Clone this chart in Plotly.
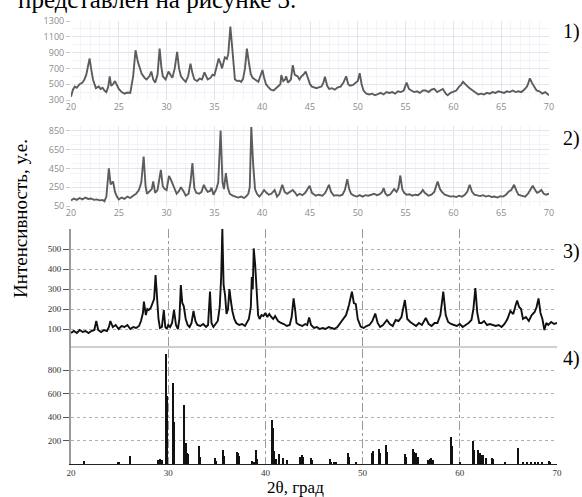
import plotly.graph_objects as go

# ---------------- data ----------------
p1_x = [20.0, 20.2, 20.4, 20.6, 20.9, 21.2, 21.4, 21.6, 21.8, 21.95,
        22.1, 22.3, 22.6, 22.9, 23.1, 23.3, 23.5, 23.7, 23.9, 24.05,
        24.2, 24.4, 24.6, 24.8, 25.0, 25.3, 25.6, 25.9, 26.2, 26.5,
        26.75, 27.0, 27.2, 27.4, 27.7, 27.9, 28.2, 28.4, 28.6, 28.8,
        29.05, 29.27, 29.45, 29.6, 29.9, 30.2, 30.4, 30.6, 30.85, 31.1,
        31.3, 31.5, 31.75, 32.0, 32.25, 32.5, 32.7, 32.9, 33.2, 33.45,
        33.7, 33.96, 34.15, 34.3, 34.6, 34.8, 35.0, 35.2, 35.45, 35.65,
        35.8, 36.0, 36.1, 36.3, 36.45, 36.67, 36.85, 37.0, 37.15, 37.4,
        37.6, 37.8, 38.0, 38.2, 38.4, 38.6, 38.8, 39.0, 39.2, 39.4,
        39.6, 39.8, 40.03, 40.2, 40.4, 40.6, 40.9, 41.2, 41.4, 41.6,
        41.9, 42.0, 42.2, 42.4, 42.5, 42.7, 43.0, 43.2, 43.4, 43.7,
        43.9, 44.1, 44.3, 44.55, 44.8, 45.0, 45.2, 45.5, 45.7, 45.9,
        46.2, 46.4, 46.56, 46.8, 47.0, 47.3, 47.6, 47.9, 48.2, 48.5,
        48.78, 49.0, 49.2, 49.5, 49.75, 50.0, 50.2, 50.4, 50.6, 50.9,
        51.2, 51.5, 51.8, 52.1, 52.4, 52.7, 53.0, 53.3, 53.6, 53.9,
        54.2, 54.5, 54.8, 55.1, 55.35, 55.6, 55.9, 56.2, 56.5, 56.8,
        57.1, 57.4, 57.7, 58.0, 58.3, 58.6, 58.9, 59.2, 59.4, 59.7,
        60.0, 60.3, 60.6, 60.8, 61.0, 61.2, 61.5, 61.7, 62.0, 62.3,
        62.6, 62.9, 63.2, 63.5, 63.8, 64.1, 64.4, 64.7, 65.0, 65.3,
        65.6, 65.9, 66.2, 66.5, 66.8, 67.1, 67.4, 67.7, 67.85, 68.0,
        68.2, 68.45, 68.7, 69.0, 69.3, 69.6, 69.8, 70.0]
p1_y = [340, 430, 470, 455, 500, 520, 560, 620, 740, 825,
        700, 560, 450, 470, 440, 455, 420, 400, 470, 600,
        480, 500, 540, 480, 440, 400, 380, 395, 390, 600,
        930, 780, 690, 630, 580, 560, 600, 660, 560, 520,
        620, 950, 720, 600, 560, 660, 620, 580, 700, 910,
        700, 600, 560, 530, 600, 760, 640, 560, 540, 570,
        560, 650, 600, 560, 580, 620, 610, 700, 825, 760,
        700, 800, 840, 820, 880, 1230, 950, 700, 560, 540,
        545, 530, 570, 700, 950, 780, 630, 580, 560, 540,
        530, 600, 680, 580, 500, 470, 430, 420, 440, 460,
        500, 615, 540, 560, 600, 520, 560, 740, 620, 600,
        560, 600, 620, 660, 560, 500, 470, 460, 450, 460,
        470, 520, 595, 480, 440, 450, 430, 460, 470, 520,
        600, 500, 480, 490, 510, 540, 640, 500, 420, 380,
        370, 380, 360, 380, 390, 370, 400, 390, 400, 380,
        410, 400, 420, 520, 440, 420, 400, 410, 390, 420,
        420, 400, 430, 440, 400, 420, 440, 380, 360, 390,
        410, 420, 470, 490, 530, 500, 470, 450, 420, 390,
        370, 380, 370, 390, 380, 400, 390, 410, 400, 390,
        410, 400, 420, 400, 410, 400, 430, 470, 520, 575,
        520, 460, 420, 410, 380, 400, 380, 360]

p2_x = [20.0, 20.3, 20.6, 20.9, 21.2, 21.5, 21.8, 22.1, 22.4, 22.7,
        23.0, 23.3, 23.5, 23.7, 23.96, 24.15, 24.4, 24.6, 24.8, 25.0,
        25.3, 25.6, 25.9, 26.2, 26.5, 26.8, 27.1, 27.35, 27.6, 27.8,
        27.95, 28.2, 28.45, 28.6, 28.8, 29.05, 29.4, 29.6, 29.8, 30.0,
        30.25, 30.45, 30.65, 30.85, 31.05, 31.3, 31.5, 31.75, 32.0, 32.3,
        32.5, 32.7, 32.9, 33.1, 33.4, 33.65, 33.9, 34.1, 34.3, 34.55,
        34.7, 34.9, 35.2, 35.4, 35.65, 35.85, 36.0, 36.2, 36.4, 36.6,
        36.9, 37.2, 37.5, 37.8, 38.1, 38.3, 38.55, 38.7, 38.86, 39.05,
        39.25, 39.45, 39.7, 39.95, 40.2, 40.45, 40.7, 40.95, 41.3, 41.55,
        41.8, 42.1, 42.35, 42.6, 42.85, 43.2, 43.45, 43.65, 43.9, 44.2,
        44.5, 44.96, 45.2, 45.6, 45.9, 46.3, 46.6, 46.98, 47.2, 47.5,
        47.8, 48.1, 48.4, 48.65, 48.9, 49.1, 49.3, 49.6, 49.9, 50.2,
        50.5, 50.8, 51.1, 51.4, 51.7, 52.0, 52.3, 52.55, 52.7, 52.9,
        53.1, 53.4, 53.6, 53.8, 54.05, 54.25, 54.45, 54.65, 54.85, 55.1,
        55.4, 55.7, 56.0, 56.3, 56.6, 56.8, 57.0, 57.4, 57.7, 58.0,
        58.35, 58.6, 58.8, 59.1, 59.4, 59.7, 60.0, 60.3, 60.6, 60.9,
        61.2, 61.45, 61.7, 61.95, 62.2, 62.5, 62.8, 63.1, 63.4, 63.7,
        64.0, 64.3, 64.6, 64.9, 65.2, 65.5, 65.8, 66.05, 66.35, 66.6,
        66.8, 67.1, 67.5, 67.8, 68.05, 68.3, 68.55, 68.75, 68.95, 69.2,
        69.45, 69.7, 70.0]
p2_y = [110, 130, 115, 135, 120, 140, 125, 130, 115, 120,
        110, 115, 100, 150, 450, 280, 310, 200, 150, 120,
        140, 125, 150, 135, 160, 180, 220, 300, 576, 260,
        180, 200, 230, 310, 190, 220, 434, 260, 230, 220,
        370, 330, 280, 220, 180, 210, 250, 210, 160, 180,
        300, 505, 240, 190, 180, 200, 275, 230, 200, 210,
        245, 170, 230, 300, 853, 300, 230, 400, 250, 180,
        160, 150, 140, 150, 135, 150, 180, 250, 890, 500,
        230, 180, 150, 180, 220, 190, 170, 180, 220, 150,
        180, 275, 200, 180, 200, 220, 190, 160, 180, 165,
        190, 265, 190, 160, 170, 160, 190, 275, 200, 160,
        165, 160, 170, 220, 334, 230, 180, 160, 150, 165,
        150, 165, 160, 170, 180, 165, 175, 200, 240, 180,
        160, 175, 200, 230, 200, 240, 374, 230, 190, 170,
        175, 160, 170, 165, 190, 220, 190, 160, 170, 200,
        310, 230, 200, 170, 160, 150, 155, 145, 160, 150,
        170, 200, 275, 200, 170, 160, 155, 165, 150, 160,
        145, 150, 140, 155, 150, 170, 205, 220, 275, 210,
        170, 160, 150, 180, 220, 266, 220, 190, 200, 220,
        180, 170, 180]

p3_x = [20.0, 20.3, 20.6, 20.9, 21.2, 21.5, 21.8, 22.1, 22.4, 22.6,
        22.8, 23.1, 23.4, 23.7, 23.9, 24.05, 24.3, 24.6, 24.9, 25.2,
        25.5, 25.8, 26.1, 26.4, 26.7, 27.0, 27.2, 27.4, 27.5, 27.7,
        27.85, 28.0, 28.2, 28.4, 28.55, 28.7, 28.85, 29.0, 29.15, 29.35,
        29.55, 29.7, 29.85, 30.0, 30.2, 30.4, 30.6, 30.8, 31.0, 31.15,
        31.3, 31.45, 31.6, 31.8, 32.0, 32.2, 32.4, 32.6, 32.8, 33.0,
        33.3, 33.6, 33.9, 34.1, 34.3, 34.45, 34.65, 34.9, 35.1, 35.3,
        35.45, 35.57, 35.7, 35.85, 36.0, 36.15, 36.3, 36.45, 36.6, 36.8,
        37.0, 37.3, 37.6, 37.9, 38.1, 38.3, 38.5, 38.6, 38.7, 38.8,
        38.95, 39.1, 39.25, 39.4, 39.6, 39.8, 40.0, 40.2, 40.4, 40.6,
        40.8, 41.0, 41.3, 41.6, 41.9, 42.2, 42.5, 42.7, 42.9, 43.05,
        43.2, 43.5, 43.8, 44.1, 44.3, 44.5, 44.7, 45.0, 45.3, 45.6,
        45.9, 46.2, 46.5, 46.8, 47.1, 47.4, 47.7, 48.0, 48.3, 48.6,
        48.9, 49.1, 49.3, 49.5, 49.8, 50.1, 50.4, 50.7, 51.0, 51.3,
        51.55, 51.8, 52.1, 52.5, 52.8, 53.1, 53.4, 53.7, 54.0, 54.35,
        54.6, 54.9, 55.2, 55.5, 55.8, 56.1, 56.5, 56.8, 57.1, 57.4,
        57.7, 58.0, 58.3, 58.55, 58.8, 59.1, 59.4, 59.7, 60.0, 60.3,
        60.6, 60.9, 61.2, 61.4, 61.6, 61.8, 62.0, 62.25, 62.5, 62.8,
        63.1, 63.4, 63.7, 64.0, 64.3, 64.6, 64.9, 65.2, 65.5, 65.75,
        65.9, 66.1, 66.3, 66.5, 66.8, 67.1, 67.4, 67.7, 67.9, 68.1,
        68.3, 68.5, 68.7, 68.9, 69.1, 69.4, 69.7, 70.0]
p3_y = [80, 90, 80, 95, 85, 90, 80, 90, 95, 140,
        95, 85, 95, 90, 110, 140, 110, 120, 100, 115,
        110, 120, 100, 110, 105, 115, 140, 180, 237, 170,
        200, 195, 205, 230, 250, 370, 250, 150, 105, 110,
        195, 110, 100, 120, 110, 130, 195, 120, 100, 150,
        320, 230, 215, 150, 120, 110, 130, 190, 140, 120,
        115, 125, 110, 120, 287, 130, 110, 130, 140, 210,
        360, 600, 320, 270, 175, 200, 300, 240, 190, 150,
        130, 120, 125, 115, 130, 150, 210, 360, 300, 503,
        420, 300, 170, 150, 170, 165, 180, 160, 175, 160,
        150, 165, 140, 130, 125, 115, 120, 160, 253, 200,
        130, 120, 115, 125, 120, 158, 120, 105, 110, 100,
        105, 100, 110, 105, 100, 110, 130, 150, 170, 220,
        287, 230, 225, 150, 112, 105, 115, 120, 140, 177,
        130, 110, 120, 145, 125, 115, 145, 140, 160, 245,
        150, 135, 125, 115, 130, 120, 155, 125, 115, 130,
        130, 170, 287, 170, 135, 125, 120, 115, 125, 110,
        120, 130, 145, 200, 305, 180, 130, 130, 140, 120,
        125, 120, 115, 120, 110, 125, 150, 190, 175, 220,
        242, 210, 200, 150, 160, 140, 170, 185, 210, 253,
        180, 150, 95, 130, 120, 135, 125, 130]

p4_x = [21.37, 24.8, 24.95, 26.06, 26.12, 29.0, 29.2, 29.35, 29.78, 29.85,
        29.92, 30.5, 30.56, 31.6, 31.66, 31.85, 31.95, 32.05, 33.17, 33.3,
        34.85, 34.95, 35.7, 35.78, 37.1, 37.2, 37.3, 38.6, 38.8, 39.06,
        39.12, 40.67, 40.75, 40.85, 41.0, 41.15, 41.4, 41.8, 42.2, 43.6,
        43.75, 43.9, 44.7, 44.8, 46.66, 46.8, 47.1, 47.3, 48.54, 48.6,
        49.3, 51.0, 51.1, 51.7, 51.8, 52.4, 52.5, 54.35, 54.45, 55.15,
        55.25, 55.55, 55.75, 56.7, 56.9, 57.1, 57.3, 59.1, 59.18, 60.0,
        61.37, 61.45, 61.9, 62.1, 62.25, 62.4, 62.7, 63.3, 63.4, 64.7,
        65.95, 66.02, 66.5, 66.9, 67.3, 67.7, 68.1, 68.5, 69.2, 69.3]
p4_y = [25, 20, 18, 68, 40, 30, 45, 30, 940, 580,
        400, 690, 360, 505, 250, 180, 90, 85, 150, 60,
        50, 25, 120, 70, 100, 95, 70, 25, 20, 116,
        40, 375, 310, 110, 35, 40, 85, 50, 30, 60,
        80, 60, 50, 30, 40, 20, 15, 15, 91, 60,
        20, 90, 108, 125, 90, 160, 100, 85, 60, 130,
        100, 90, 60, 35, 45, 50, 30, 232, 150, 12,
        196, 120, 120, 95, 80, 75, 50, 55, 40, 10,
        135, 90, 18, 15, 20, 15, 18, 12, 25, 20]

ticks_p1_x = [20, 25, 30, 35, 40, 45, 50, 55, 60, 65, 70]
ticks_p1_y = [300, 500, 700, 900, 1100, 1300]
ticks_p2_y = [50, 250, 450, 650, 850]
ticks_p3_y = [100, 200, 300, 400, 500]
ticks_p4_x = [20, 30, 40, 50, 60, 70]
ticks_p4_y = [200, 400, 600, 800]
panel_labels = ["1)", "2)", "3)", "4)"]
y_title = "Интенсивность, у.е."
x_title = "2θ, град"
top_text = "представлен на рисунке 3."

# ---------------- layout helpers ----------------
W, H = 582, 497


def py(pix):
    return 1 - pix / H


def px(pix):
    return pix / W


XL = px(71)
XR12 = px(549)
XR34 = px(557)

gray_font = dict(family="Open Sans", size=9, color="#8c8c8c")
serif_small = dict(family="Liberation Serif", size=9, color="#333333")
serif_big = dict(family="Liberation Serif", size=20, color="#000000")

fig = go.Figure()
fig.add_trace(go.Scatter(x=p1_x, y=p1_y, mode="lines", xaxis="x", yaxis="y",
                         line=dict(color="#5c5c5c", width=1.9)))
fig.add_trace(go.Scatter(x=p2_x, y=p2_y, mode="lines", xaxis="x2", yaxis="y2",
                         line=dict(color="#5c5c5c", width=1.9)))
fig.add_trace(go.Scatter(x=p3_x, y=p3_y, mode="lines", xaxis="x3", yaxis="y3",
                         line=dict(color="#111111", width=1.9)))
fig.add_trace(go.Bar(x=p4_x, y=p4_y, xaxis="x4", yaxis="y4", width=0.13,
                     marker=dict(color="#111111", line=dict(width=0))))

light_axis_x = dict(range=[20, 70], tickvals=ticks_p1_x, tickfont=gray_font,
                    showgrid=True, gridcolor="#e2e5ee", gridwidth=1,
                    minor=dict(dtick=1, showgrid=True, gridcolor="#f2f3f7"),
                    zeroline=False, showline=False, ticks="")

dash_x = dict(range=[20, 70], showgrid=True, gridcolor="#9a9a9a",
              griddash="dashdot", gridwidth=1, zeroline=False)

fig.update_layout(
    width=W, height=H, margin=dict(l=0, r=0, t=0, b=0, autoexpand=False),
    paper_bgcolor="white", plot_bgcolor="white", showlegend=False,
    bargap=0,
    xaxis=dict(light_axis_x, domain=[XL, XR12], anchor="y"),
    yaxis=dict(domain=[py(100), py(21)], range=[300, 1300], tickvals=ticks_p1_y,
               tickfont=gray_font, showgrid=True, gridcolor="#e2e5ee",
               minor=dict(dtick=100, showgrid=True, gridcolor="#f2f3f7"),
               zeroline=False, ticks="outside", ticklen=4, tickcolor="#c8c8c8",
               anchor="x"),
    xaxis2=dict(light_axis_x, domain=[XL, XR12], anchor="y2"),
    yaxis2=dict(domain=[py(206), py(126)], range=[50, 900], tickvals=ticks_p2_y,
                tickfont=gray_font, showgrid=True, gridcolor="#e2e5ee",
                minor=dict(dtick=100, showgrid=True, gridcolor="#f2f3f7"),
                zeroline=False, ticks="outside", ticklen=4, tickcolor="#c8c8c8",
                anchor="x2"),
    xaxis3=dict(dash_x, domain=[XL, XR34], anchor="y3",
                tickvals=[30, 40, 50, 60, 70], showticklabels=False, ticks=""),
    yaxis3=dict(domain=[py(349), py(229)], range=[0, 600], tickvals=ticks_p3_y,
                tickfont=serif_small, showgrid=True, gridcolor="#b0b0b0",
                griddash="dot", zeroline=False, ticks="outside", ticklen=6,
                tickcolor="#555555", showline=True, linecolor="#9a9a9a",
                linewidth=2, anchor="x3"),
    xaxis4=dict(dash_x, domain=[XL, XR34], anchor="y4",
                tickvals=ticks_p4_x, tickfont=serif_small, ticks="",
                showline=True, linecolor="#222222", linewidth=1),
    yaxis4=dict(domain=[py(464), py(349)], range=[0, 980], tickvals=ticks_p4_y,
                tickfont=serif_small, showgrid=True, gridcolor="#b0b0b0",
                griddash="dot", zeroline=False, ticks="outside", ticklen=6,
                tickcolor="#555555", showline=True, linecolor="#9a9a9a",
                linewidth=2, anchor="x4"),
)

# separator between panels 3 and 4
fig.add_shape(type="line", xref="paper", yref="paper", x0=XL, x1=XR34,
              y0=py(347), y1=py(347), line=dict(color="#cfcfcf", width=2))

annotations = []
for lbl, ycen in zip(panel_labels, [32, 139, 251, 358]):
    annotations.append(dict(text=lbl, x=px(581), y=py(ycen), xref="paper",
                            yref="paper", showarrow=False, font=serif_big,
                            xanchor="right", yanchor="middle", borderpad=0))
annotations.append(dict(text=y_title, x=px(20), y=py(219), xref="paper",
                        yref="paper", showarrow=False, textangle=-90,
                        font=dict(family="Liberation Serif", size=19, color="#000"),
                        xanchor="center", yanchor="middle"))
annotations.append(dict(text=x_title, x=px(295), y=py(487), xref="paper",
                        yref="paper", showarrow=False,
                        font=dict(family="Liberation Serif", size=17, color="#000"),
                        xanchor="center", yanchor="middle"))
annotations.append(dict(text=top_text, x=px(16), y=py(15), xref="paper",
                        yref="paper", showarrow=False,
                        font=dict(family="Liberation Serif", size=25, color="#000"),
                        xanchor="left", yanchor="bottom"))
fig.update_layout(annotations=annotations)

fig.write_html("out.html",
               config={"displayModeBar": False, "responsive": False},
               post_script="document.body.style.margin='0px';"
                           "document.body.style.overflow='hidden';")
